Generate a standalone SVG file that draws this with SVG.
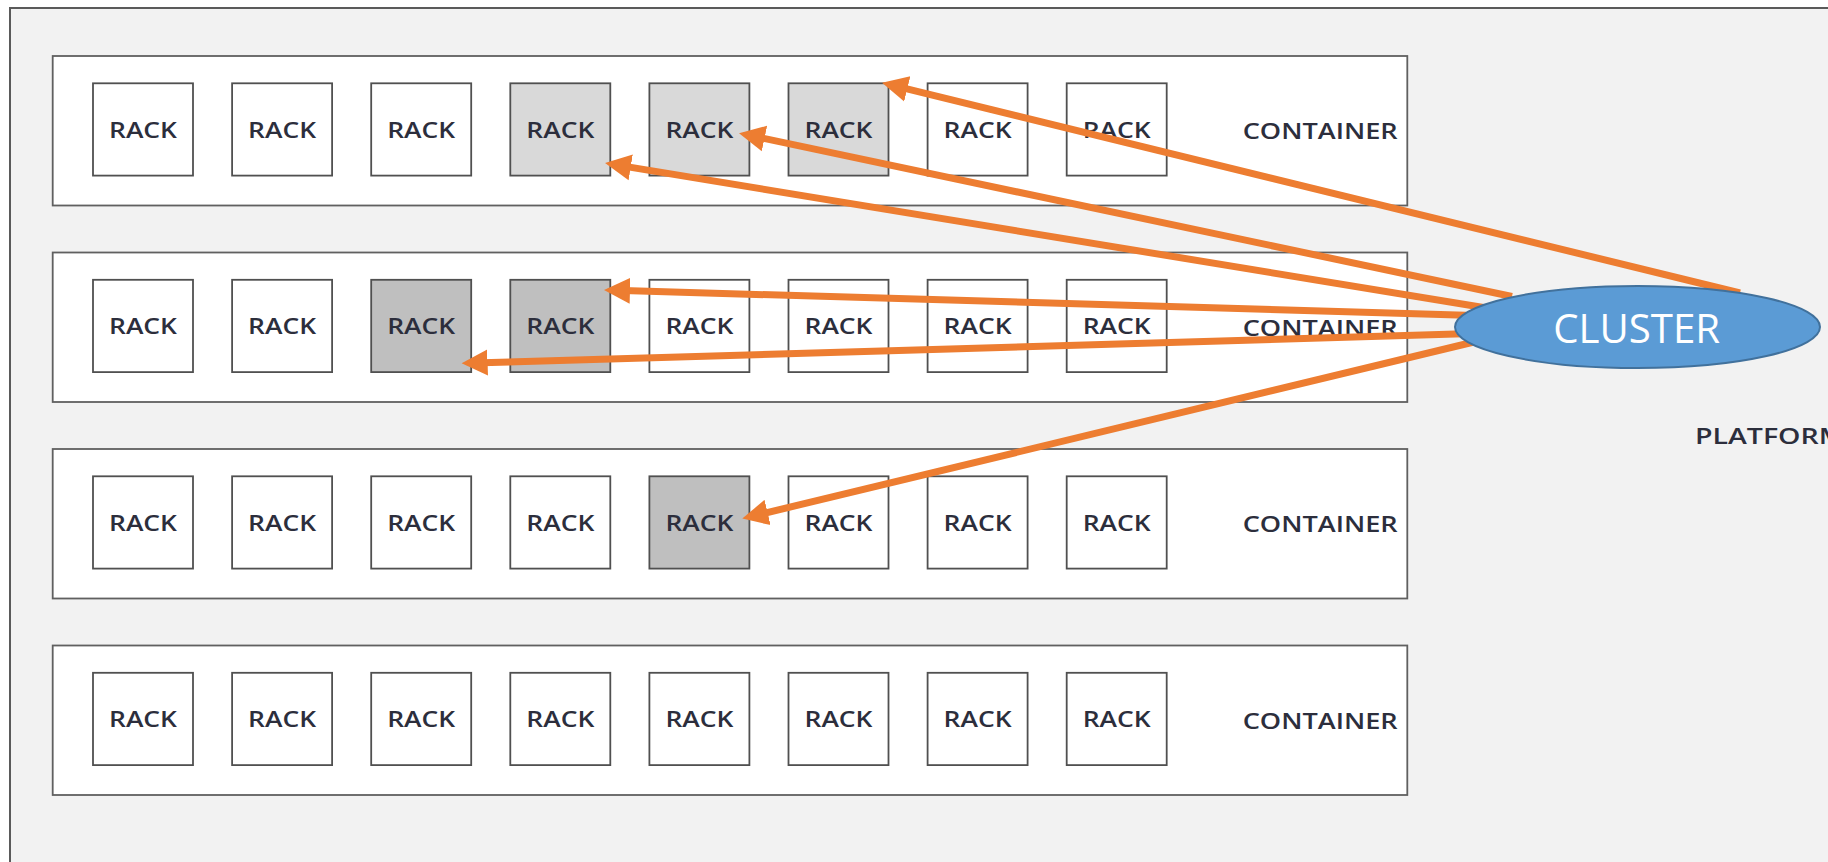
<svg xmlns="http://www.w3.org/2000/svg" width="1828" height="862" viewBox="0 0 1828 862">
  <style>
    .platform { fill: #f2f2f2; stroke: #5a5a5a; stroke-width: 2; }
    .container { fill: #ffffff; stroke: #606060; stroke-width: 1.8; }
    .rack { stroke: #505050; stroke-width: 1.8; }
    .free { fill: #ffffff; }
    .used { fill: #d9d9d9; }
    .busy { fill: #bfbfbf; }
    .lbl { font-family: "Open Sans", "Noto Sans", "Liberation Sans", sans-serif; font-weight: 600; font-size: 22px; fill: #2c2e3c; }
    .link { fill: none; stroke: #ed7d31; stroke-width: 7; stroke-linecap: butt; }
    .cluster { fill: #5b9bd5; stroke: #41719c; stroke-width: 2; }
    .clabel { font-family: "Open Sans", "Noto Sans", "Liberation Sans", sans-serif; font-size: 40px; fill: #ffffff; }
  </style>
  <defs>
    <marker id="head" markerUnits="userSpaceOnUse" markerWidth="28" markerHeight="28" viewBox="0 -14 28 28" refX="15" refY="0" orient="auto">
      <path d="M0,-13 L26,0 L0,13 z" fill="#ed7d31"/>
    </marker>
  </defs>

  <rect width="1828" height="862" fill="#ffffff"/>

  <!-- platform frame, continuing past the right and bottom edges -->
  <g id="platform">
    <rect class="platform" x="10" y="8" width="1840" height="880"/>
    <text class="lbl" x="1695" y="444.3" textLength="150" lengthAdjust="spacingAndGlyphs">PLATFORM</text>
  </g>

  <!-- container 1 -->
  <g id="container1">
    <rect class="container" x="52.7" y="56" width="1354.6" height="149.5"/>
    <text class="lbl" x="1242.7" y="139" textLength="155" lengthAdjust="spacingAndGlyphs">CONTAINER</text>
    <g id="c1r1"><rect class="rack free" x="93" y="83.3" width="100" height="92.3"/><text class="lbl" x="143" y="137.7" text-anchor="middle" textLength="68" lengthAdjust="spacingAndGlyphs">RACK</text></g>
    <g id="c1r2"><rect class="rack free" x="232.1" y="83.3" width="100" height="92.3"/><text class="lbl" x="282.1" y="137.7" text-anchor="middle" textLength="68" lengthAdjust="spacingAndGlyphs">RACK</text></g>
    <g id="c1r3"><rect class="rack free" x="371.2" y="83.3" width="100" height="92.3"/><text class="lbl" x="421.2" y="137.7" text-anchor="middle" textLength="68" lengthAdjust="spacingAndGlyphs">RACK</text></g>
    <g id="c1r4"><rect class="rack used" x="510.3" y="83.3" width="100" height="92.3"/><text class="lbl" x="560.3" y="137.7" text-anchor="middle" textLength="68" lengthAdjust="spacingAndGlyphs">RACK</text></g>
    <g id="c1r5"><rect class="rack used" x="649.4" y="83.3" width="100" height="92.3"/><text class="lbl" x="699.4" y="137.7" text-anchor="middle" textLength="68" lengthAdjust="spacingAndGlyphs">RACK</text></g>
    <g id="c1r6"><rect class="rack used" x="788.5" y="83.3" width="100" height="92.3"/><text class="lbl" x="838.5" y="137.7" text-anchor="middle" textLength="68" lengthAdjust="spacingAndGlyphs">RACK</text></g>
    <g id="c1r7"><rect class="rack free" x="927.6" y="83.3" width="100" height="92.3"/><text class="lbl" x="977.6" y="137.7" text-anchor="middle" textLength="68" lengthAdjust="spacingAndGlyphs">RACK</text></g>
    <g id="c1r8"><rect class="rack free" x="1066.7" y="83.3" width="100" height="92.3"/><text class="lbl" x="1116.7" y="137.7" text-anchor="middle" textLength="68" lengthAdjust="spacingAndGlyphs">RACK</text></g>
  </g>

  <!-- container 2 -->
  <g id="container2" transform="translate(0,196.5)">
    <rect class="container" x="52.7" y="56" width="1354.6" height="149.5"/>
    <text class="lbl" x="1242.7" y="139" textLength="155" lengthAdjust="spacingAndGlyphs">CONTAINER</text>
    <g id="c2r1"><rect class="rack free" x="93" y="83.3" width="100" height="92.3"/><text class="lbl" x="143" y="137.7" text-anchor="middle" textLength="68" lengthAdjust="spacingAndGlyphs">RACK</text></g>
    <g id="c2r2"><rect class="rack free" x="232.1" y="83.3" width="100" height="92.3"/><text class="lbl" x="282.1" y="137.7" text-anchor="middle" textLength="68" lengthAdjust="spacingAndGlyphs">RACK</text></g>
    <g id="c2r3"><rect class="rack busy" x="371.2" y="83.3" width="100" height="92.3"/><text class="lbl" x="421.2" y="137.7" text-anchor="middle" textLength="68" lengthAdjust="spacingAndGlyphs">RACK</text></g>
    <g id="c2r4"><rect class="rack busy" x="510.3" y="83.3" width="100" height="92.3"/><text class="lbl" x="560.3" y="137.7" text-anchor="middle" textLength="68" lengthAdjust="spacingAndGlyphs">RACK</text></g>
    <g id="c2r5"><rect class="rack free" x="649.4" y="83.3" width="100" height="92.3"/><text class="lbl" x="699.4" y="137.7" text-anchor="middle" textLength="68" lengthAdjust="spacingAndGlyphs">RACK</text></g>
    <g id="c2r6"><rect class="rack free" x="788.5" y="83.3" width="100" height="92.3"/><text class="lbl" x="838.5" y="137.7" text-anchor="middle" textLength="68" lengthAdjust="spacingAndGlyphs">RACK</text></g>
    <g id="c2r7"><rect class="rack free" x="927.6" y="83.3" width="100" height="92.3"/><text class="lbl" x="977.6" y="137.7" text-anchor="middle" textLength="68" lengthAdjust="spacingAndGlyphs">RACK</text></g>
    <g id="c2r8"><rect class="rack free" x="1066.7" y="83.3" width="100" height="92.3"/><text class="lbl" x="1116.7" y="137.7" text-anchor="middle" textLength="68" lengthAdjust="spacingAndGlyphs">RACK</text></g>
  </g>

  <!-- container 3 -->
  <g id="container3" transform="translate(0,393)">
    <rect class="container" x="52.7" y="56" width="1354.6" height="149.5"/>
    <text class="lbl" x="1242.7" y="139" textLength="155" lengthAdjust="spacingAndGlyphs">CONTAINER</text>
    <g id="c3r1"><rect class="rack free" x="93" y="83.3" width="100" height="92.3"/><text class="lbl" x="143" y="137.7" text-anchor="middle" textLength="68" lengthAdjust="spacingAndGlyphs">RACK</text></g>
    <g id="c3r2"><rect class="rack free" x="232.1" y="83.3" width="100" height="92.3"/><text class="lbl" x="282.1" y="137.7" text-anchor="middle" textLength="68" lengthAdjust="spacingAndGlyphs">RACK</text></g>
    <g id="c3r3"><rect class="rack free" x="371.2" y="83.3" width="100" height="92.3"/><text class="lbl" x="421.2" y="137.7" text-anchor="middle" textLength="68" lengthAdjust="spacingAndGlyphs">RACK</text></g>
    <g id="c3r4"><rect class="rack free" x="510.3" y="83.3" width="100" height="92.3"/><text class="lbl" x="560.3" y="137.7" text-anchor="middle" textLength="68" lengthAdjust="spacingAndGlyphs">RACK</text></g>
    <g id="c3r5"><rect class="rack busy" x="649.4" y="83.3" width="100" height="92.3"/><text class="lbl" x="699.4" y="137.7" text-anchor="middle" textLength="68" lengthAdjust="spacingAndGlyphs">RACK</text></g>
    <g id="c3r6"><rect class="rack free" x="788.5" y="83.3" width="100" height="92.3"/><text class="lbl" x="838.5" y="137.7" text-anchor="middle" textLength="68" lengthAdjust="spacingAndGlyphs">RACK</text></g>
    <g id="c3r7"><rect class="rack free" x="927.6" y="83.3" width="100" height="92.3"/><text class="lbl" x="977.6" y="137.7" text-anchor="middle" textLength="68" lengthAdjust="spacingAndGlyphs">RACK</text></g>
    <g id="c3r8"><rect class="rack free" x="1066.7" y="83.3" width="100" height="92.3"/><text class="lbl" x="1116.7" y="137.7" text-anchor="middle" textLength="68" lengthAdjust="spacingAndGlyphs">RACK</text></g>
  </g>

  <!-- container 4 -->
  <g id="container4" transform="translate(0,589.5)">
    <rect class="container" x="52.7" y="56" width="1354.6" height="149.5"/>
    <text class="lbl" x="1242.7" y="139" textLength="155" lengthAdjust="spacingAndGlyphs">CONTAINER</text>
    <g id="c4r1"><rect class="rack free" x="93" y="83.3" width="100" height="92.3"/><text class="lbl" x="143" y="137.7" text-anchor="middle" textLength="68" lengthAdjust="spacingAndGlyphs">RACK</text></g>
    <g id="c4r2"><rect class="rack free" x="232.1" y="83.3" width="100" height="92.3"/><text class="lbl" x="282.1" y="137.7" text-anchor="middle" textLength="68" lengthAdjust="spacingAndGlyphs">RACK</text></g>
    <g id="c4r3"><rect class="rack free" x="371.2" y="83.3" width="100" height="92.3"/><text class="lbl" x="421.2" y="137.7" text-anchor="middle" textLength="68" lengthAdjust="spacingAndGlyphs">RACK</text></g>
    <g id="c4r4"><rect class="rack free" x="510.3" y="83.3" width="100" height="92.3"/><text class="lbl" x="560.3" y="137.7" text-anchor="middle" textLength="68" lengthAdjust="spacingAndGlyphs">RACK</text></g>
    <g id="c4r5"><rect class="rack free" x="649.4" y="83.3" width="100" height="92.3"/><text class="lbl" x="699.4" y="137.7" text-anchor="middle" textLength="68" lengthAdjust="spacingAndGlyphs">RACK</text></g>
    <g id="c4r6"><rect class="rack free" x="788.5" y="83.3" width="100" height="92.3"/><text class="lbl" x="838.5" y="137.7" text-anchor="middle" textLength="68" lengthAdjust="spacingAndGlyphs">RACK</text></g>
    <g id="c4r7"><rect class="rack free" x="927.6" y="83.3" width="100" height="92.3"/><text class="lbl" x="977.6" y="137.7" text-anchor="middle" textLength="68" lengthAdjust="spacingAndGlyphs">RACK</text></g>
    <g id="c4r8"><rect class="rack free" x="1066.7" y="83.3" width="100" height="92.3"/><text class="lbl" x="1116.7" y="137.7" text-anchor="middle" textLength="68" lengthAdjust="spacingAndGlyphs">RACK</text></g>
  </g>

  <!-- cluster-to-rack assignments -->
  <g id="connectors">
    <path class="link" d="M1740,293 L892.7,85.4" marker-end="url(#head)"/>
    <path class="link" d="M1512,296.5 L749.8,135.4" marker-end="url(#head)"/>
    <path class="link" d="M1488,308.3 L615.9,164.9" marker-end="url(#head)"/>
    <path class="link" d="M1466,315.2 L615,290.3" marker-end="url(#head)"/>
    <path class="link" d="M1464,333.8 L472.6,363" marker-end="url(#head)"/>
    <path class="link" d="M1478,341 L753,516" marker-end="url(#head)"/>
  </g>

  <g id="cluster">
    <ellipse class="cluster" cx="1637.5" cy="327" rx="182.5" ry="41"/>
    <text class="clabel" x="1636.7" y="343.3" text-anchor="middle" textLength="167" lengthAdjust="spacingAndGlyphs">CLUSTER</text>
  </g>
</svg>
